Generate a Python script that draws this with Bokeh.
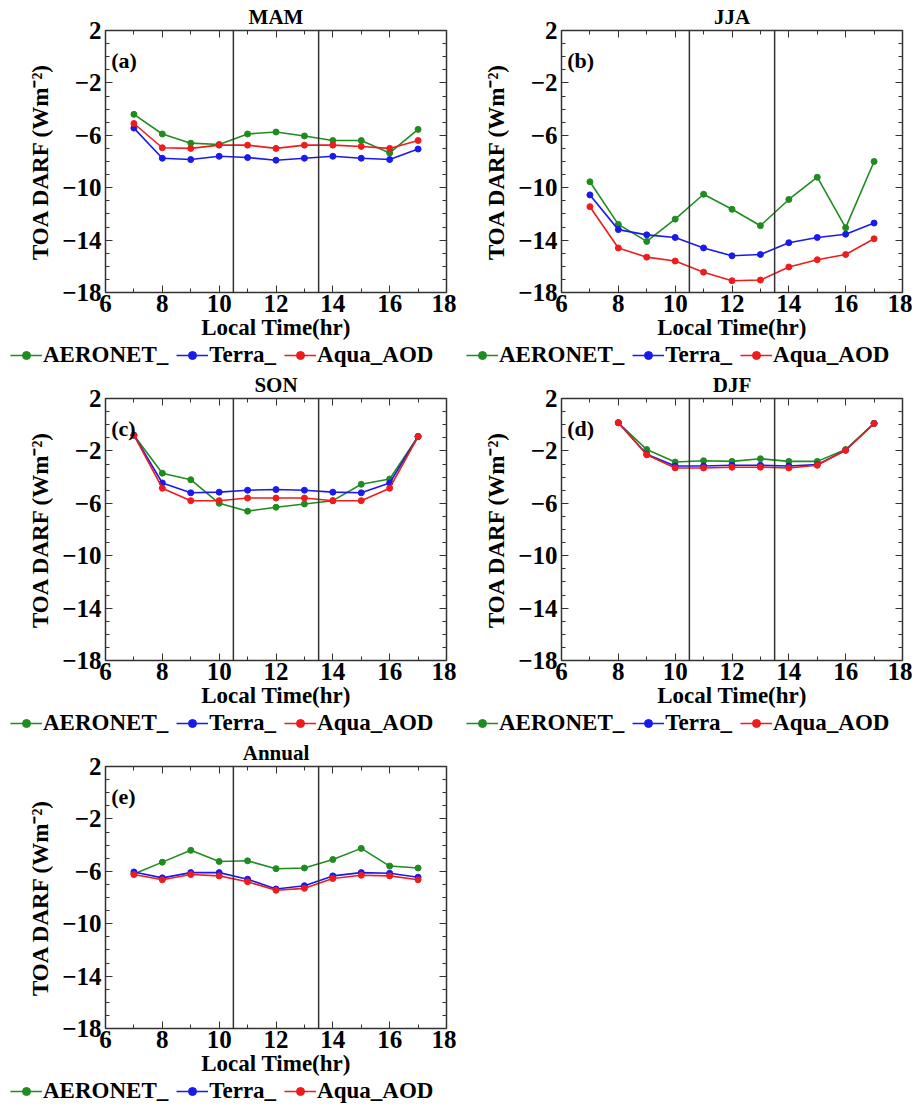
from bokeh.plotting import figure
from bokeh.models import (Span, Label, LinearAxis, FixedTicker, Legend, LegendItem,
                          Range1d, CustomJSTickFormatter, ColumnDataSource)
from bokeh.layouts import column, row
from bokeh.embed import file_html
from bokeh.resources import INLINE

hours = [7, 8, 9, 10, 11, 12, 13, 14, 15, 16, 17]
hours_djf = [8, 9, 10, 11, 12, 13, 14, 15, 16, 17]

mam_aeronet = [-4.4, -5.9, -6.6, -6.7, -5.9, -5.75, -6.05, -6.4, -6.4, -7.35, -5.55]
mam_terra = [-5.45, -7.75, -7.85, -7.6, -7.7, -7.9, -7.75, -7.6, -7.75, -7.85, -7.05]
mam_aqua = [-5.1, -6.95, -7.0, -6.75, -6.75, -7.0, -6.75, -6.75, -6.85, -7.0, -6.4]

jja_aeronet = [-9.55, -12.8, -14.1, -12.4, -10.5, -11.65, -12.9, -10.9, -9.2, -13.05, -8.0]
jja_terra = [-10.55, -13.2, -13.6, -13.8, -14.6, -15.2, -15.1, -14.2, -13.8, -13.55, -12.7]
jja_aqua = [-11.45, -14.6, -15.3, -15.6, -16.45, -17.1, -17.05, -16.05, -15.5, -15.1, -13.9]

son_aeronet = [-0.8, -3.7, -4.2, -6.0, -6.6, -6.3, -6.05, -5.8, -4.55, -4.15, -0.9]
son_terra = [-0.8, -4.45, -5.2, -5.15, -5.0, -4.95, -5.0, -5.15, -5.2, -4.45, -0.9]
son_aqua = [-0.8, -4.85, -5.8, -5.8, -5.6, -5.6, -5.6, -5.8, -5.8, -4.85, -0.9]

djf_aeronet = [0.15, -1.9, -2.85, -2.75, -2.8, -2.6, -2.8, -2.8, -1.9, 0.1]
djf_terra = [0.15, -2.25, -3.15, -3.15, -3.1, -3.1, -3.15, -3.05, -1.95, 0.1]
djf_aqua = [0.15, -2.3, -3.3, -3.3, -3.25, -3.25, -3.3, -3.1, -1.95, 0.1]

ann_aeronet = [-6.2, -5.3, -4.4, -5.25, -5.2, -5.8, -5.75, -5.1, -4.25, -5.6, -5.75]
ann_terra = [-6.05, -6.5, -6.1, -6.1, -6.6, -7.35, -7.1, -6.35, -6.1, -6.15, -6.45]
ann_aqua = [-6.25, -6.65, -6.25, -6.35, -6.8, -7.45, -7.3, -6.55, -6.3, -6.35, -6.65]

x_ticks = [6, 8, 10, 12, 14, 16, 18]
x_minor = [7, 9, 11, 13, 15, 17]
y_ticks = [-18, -14, -10, -6, -2, 2]
y_minor = [-17, -16, -15, -13, -12, -11, -9, -8, -7, -5, -4, -3, -1, 0, 1]

series_names = ["AERONET_", "Terra_", "Aqua_AOD"]
colors = ["#1f8c1f", "#1a1aee", "#ee1c1c"]
FONT = "Liberation Serif"
NAN = float("nan")


def style_axis(ax):
    ax.major_tick_in = 7
    ax.major_tick_out = 0
    ax.minor_tick_in = 4
    ax.minor_tick_out = 0
    ax.axis_line_color = None
    ax.major_tick_line_color = "#333333"
    ax.minor_tick_line_color = "#333333"
    ax.major_label_text_font = FONT
    ax.major_label_text_font_style = "bold"
    ax.major_label_text_font_size = "25px"
    ax.major_label_text_color = "black"
    ax.axis_label_text_font = FONT
    ax.axis_label_text_font_style = "bold"
    ax.axis_label_text_font_size = "23px"
    ax.axis_label_text_color = "black"


def legend_fig():
    lf = figure(width=456, height=26, output_backend="svg", toolbar_location=None,
                x_range=Range1d(0, 1), y_range=Range1d(0, 1),
                x_axis_location=None, y_axis_location=None,
                min_border=0, outline_line_color=None)
    lf.frame_align = False
    lf.grid.visible = False
    items = []
    for name, c in zip(series_names, colors):
        src = ColumnDataSource(dict(x=[NAN, NAN], y=[NAN, NAN]))
        r1 = lf.line("x", "y", source=src, line_color=c, line_width=1.6)
        r2 = lf.scatter("x", "y", source=src, size=6, fill_color=c, line_color=c)
        items.append(LegendItem(label=name, renderers=[r1, r2]))
    leg = Legend(items=items, orientation="horizontal", location=(10, 0),
                 label_text_font=FONT, label_text_font_style="bold", label_text_font_size="23px",
                 label_text_color="black",
                 border_line_color=None, background_fill_alpha=0, padding=0, spacing=8,
                 glyph_width=32, label_standoff=1, margin=0)
    lf.add_layout(leg)
    return lf


def panel(title, tag, xs, ys_list):
    p = figure(width=456, height=342, output_backend="svg", toolbar_location=None,
               x_range=Range1d(6, 18), y_range=Range1d(-18, 2),
               x_axis_location=None, y_axis_location=None,
               min_border_left=105, min_border_right=10, min_border_top=8, min_border_bottom=4)
    p.frame_align = False
    p.title.text = title
    p.title.align = "center"
    p.title.text_font = FONT
    p.title.text_font_size = "21px"
    p.title.text_font_style = "bold"
    p.title.text_color = "black"
    p.title.offset = 0
    p.title.standoff = 4
    p.grid.visible = False
    p.outline_line_color = "#333333"
    p.outline_line_width = 1.5

    def xtick():
        return FixedTicker(ticks=x_ticks, minor_ticks=x_minor)

    def ytick():
        return FixedTicker(ticks=y_ticks, minor_ticks=y_minor)

    xb = LinearAxis(ticker=xtick(), axis_label="Local Time(hr)")
    yl = LinearAxis(ticker=ytick(), axis_label="TOA DARF (Wm⁻²)")
    xt = LinearAxis(ticker=xtick(), formatter=CustomJSTickFormatter(code="return ''"))
    yr = LinearAxis(ticker=ytick(), formatter=CustomJSTickFormatter(code="return ''"))
    for ax in (xb, yl, xt, yr):
        style_axis(ax)
    xt.major_label_standoff = 0
    yr.major_label_standoff = 0
    xb.major_label_standoff = 2
    xb.axis_label_standoff = 0
    yl.major_label_standoff = 4
    yl.axis_label_standoff = 6
    p.add_layout(xb, "below")
    p.add_layout(yl, "left")
    p.add_layout(xt, "above")
    p.add_layout(yr, "right")

    for xv in (10.5, 13.5):
        p.add_layout(Span(location=xv, dimension="height", line_color="#333333", line_width=1.5))
    for c, ys in zip(colors, ys_list):
        p.line(xs, ys, line_color=c, line_width=1.6)
        p.scatter(xs, ys, size=6, fill_color=c, line_color=c)
    p.add_layout(Label(x=6.2, y=-0.3, text=tag, text_font=FONT, text_font_style="bold",
                       text_color="black", text_font_size="22px", text_baseline="middle"))
    return column(p, legend_fig(), spacing=0)


pa = panel("MAM", "(a)", hours, [mam_aeronet, mam_terra, mam_aqua])
pb = panel("JJA", "(b)", hours, [jja_aeronet, jja_terra, jja_aqua])
pc = panel("SON", "(c)", hours, [son_aeronet, son_terra, son_aqua])
pd_ = panel("DJF", "(d)", hours_djf, [djf_aeronet, djf_terra, djf_aqua])
pe = panel("Annual", "(e)", hours, [ann_aeronet, ann_terra, ann_aqua])

layout = column(row(pa, pb), row(pc, pd_), row(pe))
open("out.html", "w").write(file_html(layout, INLINE))
